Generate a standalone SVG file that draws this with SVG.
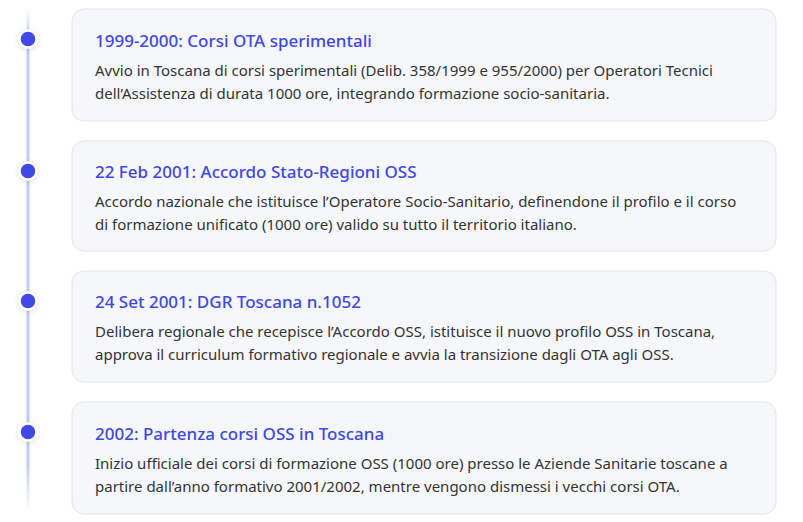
<svg xmlns="http://www.w3.org/2000/svg" width="803" height="522" viewBox="0 0 803 522">
<defs>
<style>
.card{fill:#f6f7fb;stroke:#e2e4ea;stroke-width:1}
.t{font-family:"Noto Sans","Open Sans",sans-serif;font-size:17px;fill:#3f46e6;font-weight:500}
.b{font-family:"Noto Sans","Open Sans",sans-serif;font-size:15px;fill:#333333}
.dot{fill:#4148e6;stroke:#ffffff;stroke-width:2.5}
</style>
<linearGradient id="lg" x1="0" y1="0" x2="0" y2="1">
<stop offset="0" stop-color="#c3cafc" stop-opacity="0"/>
<stop offset="0.06" stop-color="#c3cafc"/>
<stop offset="0.9" stop-color="#c3cafc"/>
<stop offset="1" stop-color="#c3cafc" stop-opacity="0"/>
</linearGradient>
<filter id="sh" x="-100%" y="-100%" width="300%" height="300%">
<feDropShadow dx="0" dy="1" stdDeviation="2.5" flood-color="#000" flood-opacity="0.15"/>
</filter>
</defs>
<g id="connectors">
<rect x="26.5" y="8" width="3" height="505" fill="url(#lg)"/>
</g>
<g id="item1">
<rect class="card" x="72" y="9" width="704" height="112" rx="12"/>
<circle class="dot" cx="28" cy="39" r="8.5" filter="url(#sh)"/>
<text class="t" x="95" y="47">1999-2000: Corsi OTA sperimentali</text>
<text class="b" x="95" y="76">Avvio in Toscana di corsi sperimentali (Delib. 358/1999 e 955/2000) per Operatori Tecnici</text>
<text class="b" x="95" y="99">dell’Assistenza di durata 1000 ore, integrando formazione socio-sanitaria.</text>
</g>
<g id="item2">
<rect class="card" x="72" y="141" width="704" height="110" rx="12"/>
<circle class="dot" cx="28" cy="171" r="8.5" filter="url(#sh)"/>
<text class="t" x="95" y="178">22 Feb 2001: Accordo Stato-Regioni OSS</text>
<text class="b" x="95" y="207">Accordo nazionale che istituisce l’Operatore Socio-Sanitario, definendone il profilo e il corso</text>
<text class="b" x="95" y="230">di formazione unificato (1000 ore) valido su tutto il territorio italiano.</text>
</g>
<g id="item3">
<rect class="card" x="72" y="271" width="704" height="111" rx="12"/>
<circle class="dot" cx="28" cy="301" r="8.5" filter="url(#sh)"/>
<text class="t" x="95" y="308">24 Set 2001: DGR Toscana n.1052</text>
<text class="b" x="95" y="337">Delibera regionale che recepisce l’Accordo OSS, istituisce il nuovo profilo OSS in Toscana,</text>
<text class="b" x="95" y="360">approva il curriculum formativo regionale e avvia la transizione dagli OTA agli OSS.</text>
</g>
<g id="item4">
<rect class="card" x="72" y="402" width="704" height="112" rx="12"/>
<circle class="dot" cx="28" cy="432" r="8.5" filter="url(#sh)"/>
<text class="t" x="95" y="440">2002: Partenza corsi OSS in Toscana</text>
<text class="b" x="95" y="469">Inizio ufficiale dei corsi di formazione OSS (1000 ore) presso le Aziende Sanitarie toscane a</text>
<text class="b" x="95" y="492">partire dall’anno formativo 2001/2002, mentre vengono dismessi i vecchi corsi OTA.</text>
</g>
</svg>
